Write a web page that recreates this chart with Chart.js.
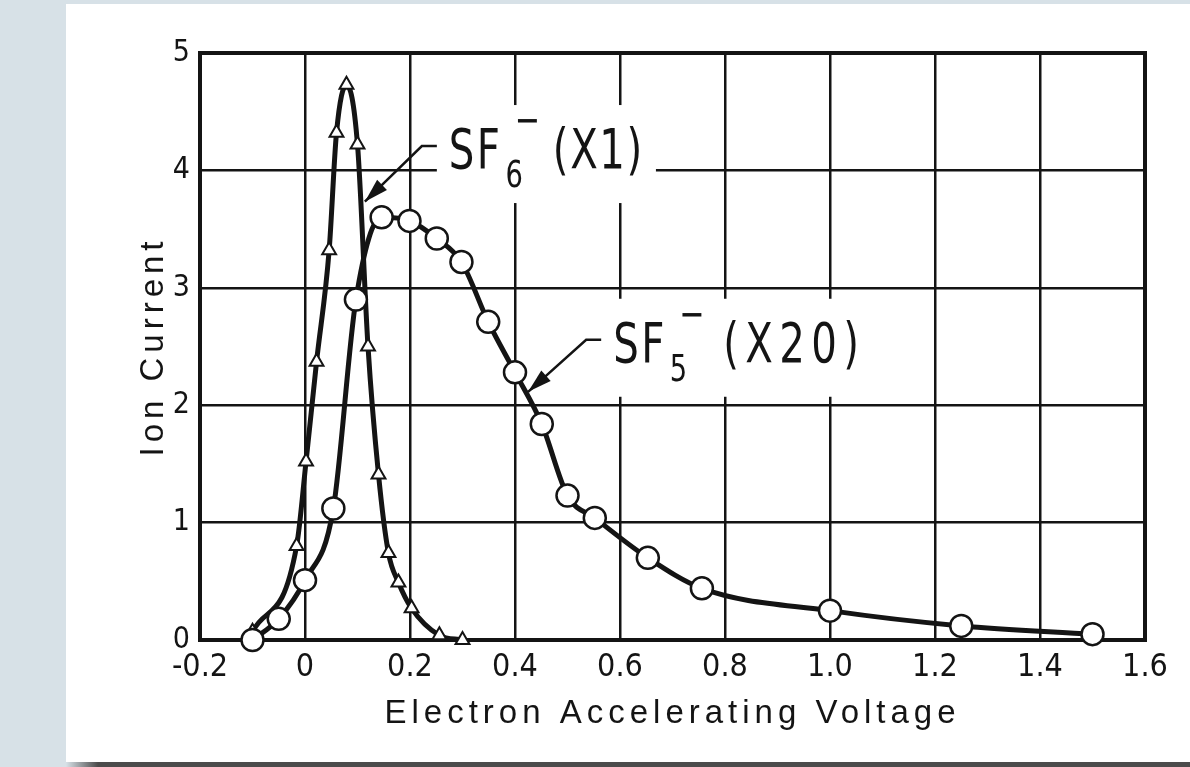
<!DOCTYPE html>
<html><head><meta charset="utf-8">
<script src="https://cdn.jsdelivr.net/npm/chart.js@4.4.1/dist/chart.umd.min.js"></script>
<style>
html,body{margin:0;padding:0;width:1190px;height:767px;overflow:hidden;background:#d7e1e7;}
#panel{position:absolute;left:66px;top:4px;width:1124px;height:758px;background:#fff;}
#shadow{position:absolute;left:66px;top:762px;width:1124px;height:5px;background:linear-gradient(to right,#d7e1e7 0px,#4b4b4b 32px,#4b4b4b 100%);}
#c{position:absolute;left:0;top:0;}
</style></head><body>
<div id="panel"></div><div id="shadow"></div>
<canvas id="c" width="1190" height="767"></canvas>
<script>
// ---- data ----
const xTickLabels = ['-0.2','0','0.2','0.4','0.6','0.8','1.0','1.2','1.4','1.6'];
const yTickLabels = ['0','1','2','3','4','5'];
const xTitle = 'Electron Accelerating Voltage';
const yTitle = 'Ion Current';
const sf6Voltage = [-0.10, -0.016, 0.002, 0.022, 0.046, 0.060, 0.079, 0.100, 0.120, 0.140, 0.159, 0.178, 0.203, 0.256, 0.300];
const sf6Current = [0.07, 0.80, 1.52, 2.37, 3.32, 4.32, 4.73, 4.22, 2.50, 1.41, 0.74, 0.49, 0.27, 0.04, 0.00];
const sf5Voltage = [-0.10, -0.05, 0.00, 0.054, 0.097, 0.146, 0.199, 0.251, 0.298, 0.349, 0.400, 0.451, 0.500, 0.552, 0.653, 0.756, 1.00, 1.25, 1.50];
const sf5Current = [0.00, 0.18, 0.51, 1.12, 2.90, 3.60, 3.57, 3.42, 3.22, 2.71, 2.28, 1.84, 1.23, 1.04, 0.70, 0.44, 0.25, 0.12, 0.05];
const seriesLabels = [
  {name:'SF', sub:'5', sup:'\u2212', tail:'(X20)'},
  {name:'SF', sub:'6', sup:'\u2212', tail:'(X1)'}
];

const INK = '#141414';
const NARROW = '"Liberation Sans Narrow","DejaVu Sans Condensed","Liberation Sans",sans-serif';
const SANS = '"Liberation Sans","DejaVu Sans",sans-serif';

// label anchors in data coordinates: text start, leader tip
const labelPlacement = [
  {tx:0.587, ty:2.37, tipX:0.425, tipY:2.114, ls:8, gap:36},
  {tx:0.274, ty:4.02, tipX:0.114, tipY:3.734, ls:2, gap:30}
];

function pts(xs, ys){ return xs.map((x,i)=>({x:x, y:ys[i]})); }

const annotatePlugin = {
  id:'annotate',
  afterUpdate(chart){
    Object.values(chart.scales).forEach(s=>{
      if (s.__ls) return;
      const orig = s.drawTitle;
      s.drawTitle = function(){
        const c = this.ctx; const p = c.letterSpacing;
        c.letterSpacing = '5px';
        orig.apply(this, arguments);
        c.letterSpacing = p;
      };
      s.__ls = true;
    });
  },
  beforeDatasetsDraw(chart){
    const ctx = chart.ctx, a = chart.chartArea;
    const xs = chart.scales.x, ys = chart.scales.y;
    const SX = 0.8;
    ctx.save();
    ctx.strokeStyle = INK; ctx.lineWidth = 4;
    ctx.strokeRect(a.left, a.top, a.right - a.left, a.bottom - a.top);
    function measure(str, size, ls){
      ctx.font = size + 'px ' + NARROW; ctx.letterSpacing = ls + 'px';
      return ctx.measureText(str).width * SX;
    }
    function draw(str, x, y, size, ls){
      ctx.save(); ctx.translate(x, y); ctx.scale(SX, 1);
      ctx.font = size + 'px ' + NARROW; ctx.letterSpacing = ls + 'px';
      ctx.fillStyle = INK; ctx.textBaseline = 'alphabetic'; ctx.textAlign = 'left';
      ctx.fillText(str, 0, 0); ctx.restore();
    }
    seriesLabels.forEach((lab, i)=>{
      const pl = labelPlacement[i];
      const x0 = xs.getPixelForValue(pl.tx);
      const base = ys.getPixelForValue(pl.ty);
      const big = 56, small = 38, supS = 42;
      const wName = measure(lab.name, big, 3);
      const subX = x0 + wName + 3;
      const wSub = measure(lab.sub, small, 0);
      const supX = subX + wSub - 8;
      const tailX = subX + wSub + pl.gap;
      const wTail = measure(lab.tail, big, pl.ls);
      const boxL = x0 - 12, boxR = tailX + wTail + 12;
      const boxT = base - 63, boxB = base + 35;
      ctx.fillStyle = '#fff';
      ctx.fillRect(boxL, boxT, boxR - boxL, boxB - boxT);
      draw(lab.name, x0, base, big, 3);
      draw(lab.sub, subX, base + 19, small, 0);
      draw(lab.sup, supX, base - 34, supS, 0);
      draw(lab.tail, tailX, base, big, pl.ls);
      // leader
      const ly = base - 22;
      const tipX = xs.getPixelForValue(pl.tipX), tipY = ys.getPixelForValue(pl.tipY);
      const cx = x0 - 12 - 15;
      ctx.strokeStyle = INK; ctx.lineWidth = 2.5;
      ctx.beginPath();
      ctx.moveTo(x0 - 12, ly); ctx.lineTo(cx, ly); ctx.lineTo(tipX, tipY);
      ctx.stroke();
      const ang = Math.atan2(tipY - ly, tipX - cx);
      const L = 24, W = 7;
      ctx.beginPath();
      ctx.moveTo(tipX, tipY);
      ctx.lineTo(tipX - L*Math.cos(ang) + W*Math.sin(ang), tipY - L*Math.sin(ang) - W*Math.cos(ang));
      ctx.lineTo(tipX - L*Math.cos(ang) - W*Math.sin(ang), tipY - L*Math.sin(ang) + W*Math.cos(ang));
      ctx.closePath(); ctx.fillStyle = INK; ctx.fill();
    });
    ctx.restore();
  }
};

new Chart(document.getElementById('c'), {
  type:'line',
  data:{datasets:[
    {label:'SF5\u2212 (X20)', data:pts(sf5Voltage, sf5Current), borderColor:INK, borderWidth:5,
     pointStyle:'circle', pointRadius:11, pointBorderWidth:2.5, pointBackgroundColor:'#fff', pointBorderColor:INK,
     cubicInterpolationMode:'monotone', tension:0.4, fill:false, clip:false},
    {label:'SF6\u2212 (X1)', data:pts(sf6Voltage, sf6Current), borderColor:INK, borderWidth:5,
     pointStyle:'triangle', pointRadius:8, pointBorderWidth:2, pointBackgroundColor:'#fff', pointBorderColor:INK,
     cubicInterpolationMode:'monotone', tension:0.4, fill:false, clip:false}
  ]},
  options:{
    responsive:false, animation:false, devicePixelRatio:1, events:[],
    layout:{padding:{left:0, top:53, right:45, bottom:0}},
    plugins:{legend:{display:false}, tooltip:{enabled:false}},
    scales:{
      x:{type:'linear', min:-0.2, max:1.6,
         ticks:{stepSize:0.2, autoSkip:false, maxRotation:0, padding:8, color:INK, font:{family:NARROW, size:32},
                callback:(v)=>{ const l = xTickLabels.find(t=>Math.abs(parseFloat(t)-v)<1e-6); return l===undefined?'':l; }},
         grid:{color:INK, lineWidth:2.5, drawTicks:false}, border:{display:false},
         title:{display:true, text:xTitle, color:INK, font:{family:SANS, size:33}, padding:{top:0, bottom:33}},
         afterFit(s){ s.height = 127; }},
      y:{min:0, max:5,
         ticks:{stepSize:1, padding:10, color:INK, font:{family:NARROW, size:30},
                callback:(v)=>{ const l = yTickLabels.find(t=>Math.abs(parseFloat(t)-v)<1e-6); return l===undefined?'':l; }},
         grid:{color:INK, lineWidth:2.5, drawTicks:false}, border:{display:false},
         title:{display:true, text:yTitle, color:INK, font:{family:SANS, size:33}, padding:{top:134, bottom:0}},
         afterFit(s){ s.width = 200; }}
    }
  },
  plugins:[annotatePlugin]
});
</script>
</body></html>
